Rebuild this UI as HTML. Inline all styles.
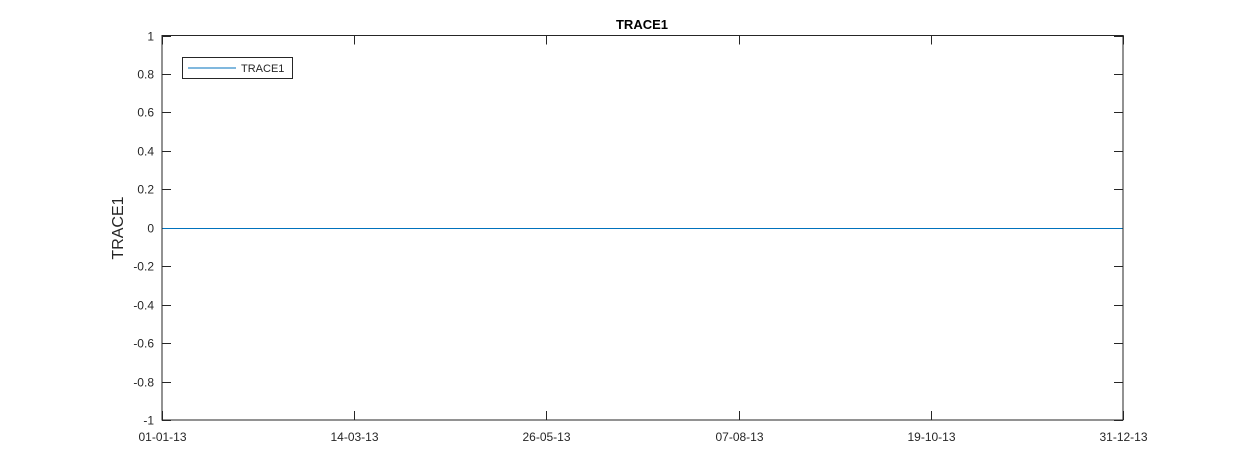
<!DOCTYPE html>
<html><head><meta charset="utf-8"><style>
body{margin:0;background:#fff;}
svg{display:block;font-family:"Liberation Sans",Arial,sans-serif;}
</style></head><body>
<svg id="chart" width="1240" height="472">
<rect width="1240" height="472" fill="#fff"/>
<text x="642" y="29" text-anchor="middle" font-size="13" font-weight="bold">TRACE1</text>
<text transform="translate(123,228) rotate(-90)" text-anchor="middle" font-size="16" fill="#262626">TRACE1</text>
<g id="axes"></g>
<g id="marks"></g>
<rect x="162" y="35.5" width="961" height="384.5" fill="none" stroke="#262626" stroke-width="1"/>
<g>
<rect x="182.5" y="57.5" width="110" height="21" fill="#fff" stroke="#262626"/>
<line x1="188" y1="68" x2="236" y2="68" stroke="#0072bd"/>
<text x="241" y="72" font-size="11" fill="#262626">TRACE1</text>
</g>
</svg>
<script>
const xTickDays=[0,72.8,145.6,218.4,291.2,364];
const xTickLabels=["01-01-13","14-03-13","26-05-13","07-08-13","19-10-13","31-12-13"];
const yTicks=[1,0.8,0.6,0.4,0.2,0,-0.2,-0.4,-0.6,-0.8,-1];
const yTickLabels=["1","0.8","0.6","0.4","0.2","0","-0.2","-0.4","-0.6","-0.8","-1"];
const seriesDays=[0,364];
const seriesValues=[0,0];
const L=162,R=1123,T=35.5,B=420;
const xS=d=>L+(d-0)/(364-0)*(R-L);
const yS=v=>B-(v+1)/2*(B-T);
const ns="http://www.w3.org/2000/svg";
const ax=document.getElementById('axes');
function mk(t,a,p){const e=document.createElementNS(ns,t);for(const k in a)e.setAttribute(k,a[k]);p.appendChild(e);return e;}
yTicks.forEach((v,i)=>{
 const y=Math.round(yS(v))+0.5;
 const t1=mk('line',{x1:L,x2:L+9,y1:y,y2:y,stroke:'#262626'},ax);
 
 
 const t2=mk('line',{x1:R-9,x2:R,y1:y,y2:y,stroke:'#262626'},ax);
 
 
 const tx=mk('text',{x:L-8,y:y+4,'text-anchor':'end','font-size':'12',fill:'#262626'},ax);
 tx.textContent=yTickLabels[i];
 
 
});
xTickDays.forEach((d,i)=>{
 const x=Math.round(xS(d))+0.5;
 const t1=mk('line',{x1:x,x2:x,y1:B-9,y2:B,stroke:'#262626'},ax);
 
 
 const t2=mk('line',{x1:x,x2:x,y1:T,y2:T+9,stroke:'#262626'},ax);
 
 
 const tx=mk('text',{x:x,y:B+21,'text-anchor':'middle','font-size':'12',fill:'#262626'},ax);
 tx.textContent=xTickLabels[i];
 
 
});
const pts=seriesDays.map((d,i)=>xS(d)+','+(Math.round(yS(seriesValues[i]))+0.5)).join(' ');
const pl=mk('polyline',{points:pts,fill:'none',stroke:'#0072bd','stroke-width':'1'},document.getElementById('marks'));


</script>
</body></html>
